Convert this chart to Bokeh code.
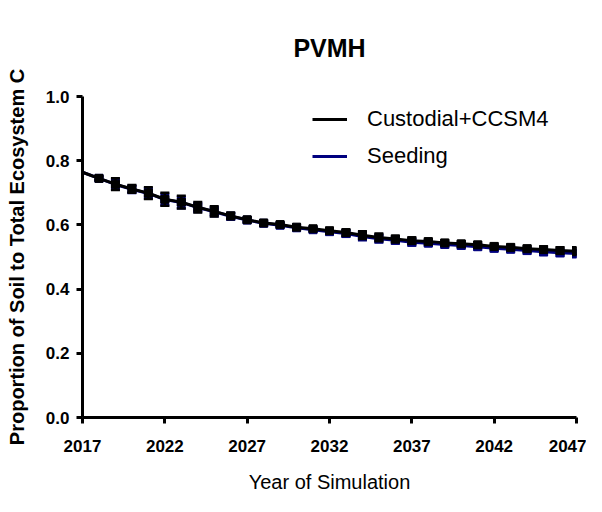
from bokeh.plotting import figure
from bokeh.models import ColumnDataSource, FixedTicker, Legend, LegendItem, Range1d, PrintfTickFormatter
from bokeh.embed import file_html
from bokeh.resources import INLINE

years = list(range(2017, 2048))
custodial = [0.764, 0.745, 0.727, 0.712, 0.699, 0.680, 0.671, 0.655, 0.642, 0.628,
             0.616, 0.606, 0.601, 0.593, 0.588, 0.582, 0.576, 0.568, 0.561, 0.556,
             0.551, 0.548, 0.544, 0.541, 0.538, 0.533, 0.530, 0.526, 0.523, 0.520, 0.518]
custodial_err = [0.004, 0.006, 0.018, 0.012, 0.018, 0.020, 0.020, 0.016, 0.016, 0.010,
                 0.007, 0.006, 0.006, 0.006, 0.006, 0.006, 0.010, 0.012, 0.012, 0.010,
                 0.010, 0.008, 0.008, 0.008, 0.008, 0.008, 0.008, 0.008, 0.010, 0.010, 0.012]
seeding = [0.764, 0.745, 0.726, 0.711, 0.698, 0.679, 0.670, 0.654, 0.641, 0.627,
           0.615, 0.605, 0.599, 0.591, 0.585, 0.579, 0.573, 0.564, 0.557, 0.552,
           0.546, 0.543, 0.539, 0.536, 0.532, 0.527, 0.524, 0.520, 0.516, 0.513, 0.511]
seeding_err = [0.004, 0.006, 0.016, 0.012, 0.016, 0.018, 0.018, 0.014, 0.014, 0.010,
               0.007, 0.006, 0.006, 0.006, 0.006, 0.006, 0.010, 0.012, 0.012, 0.010,
               0.010, 0.008, 0.008, 0.008, 0.008, 0.008, 0.008, 0.008, 0.010, 0.010, 0.012]
x_ticks = [2017, 2022, 2027, 2032, 2037, 2042, 2047]
y_ticks = [0.0, 0.2, 0.4, 0.6, 0.8, 1.0]

FONT = "Liberation Sans"
BLACK = "#000000"
BLUE = "#00007f"

p = figure(width=586, height=496, output_backend="svg", toolbar_location=None,
           x_range=Range1d(2017, 2047), y_range=Range1d(0, 1),
           min_border_left=82, min_border_right=10, min_border_top=96, min_border_bottom=79,
           title="PVMH")
p.outline_line_color = None
p.xgrid.visible = False
p.ygrid.visible = False
p.background_fill_color = "white"
p.border_fill_color = "white"

p.title.text_font = FONT
p.title.text_font_size = "25px"
p.title.text_font_style = "bold"
p.title.align = "center"
p.title.vertical_align = "top"
p.title.standoff = 66
p.title.text_color = BLACK


def add_series(vals, errs, color):
    src = ColumnDataSource(dict(
        x=years[1:], y=vals[1:],
        lo=[v - e for v, e in zip(vals[1:], errs[1:])],
        hi=[v + e for v, e in zip(vals[1:], errs[1:])],
    ))
    line = p.line(years, vals, line_color=color, line_width=3)
    p.segment(x0="x", y0="lo", x1="x", y1="hi", source=src, line_color=color, line_width=2.5)
    p.scatter(x="x", y="lo", source=src, marker="dash", size=9, line_color=color, line_width=2.5)
    p.scatter(x="x", y="hi", source=src, marker="dash", size=9, line_color=color, line_width=2.5)
    p.scatter(x="x", y="y", source=src, marker="square", size=8, fill_color=color, line_color=color)
    return line


l_seed = add_series(seeding, seeding_err, BLUE)
l_cust = add_series(custodial, custodial_err, BLACK)

legend = Legend(items=[LegendItem(label="Custodial+CCSM4", renderers=[l_cust]),
                       LegendItem(label="Seeding", renderers=[l_seed])],
                location=(230, 248), border_line_color=None, background_fill_alpha=0,
                padding=0, margin=0, spacing=11, glyph_width=35, glyph_height=26,
                label_height=26, label_standoff=20,
                label_text_font=FONT, label_text_font_size="22px", label_text_color=BLACK)
p.add_layout(legend, "center")

for ax in (p.xaxis[0], p.yaxis[0]):
    ax.axis_line_width = 3
    ax.axis_line_color = BLACK
    ax.major_tick_line_width = 3
    ax.major_tick_line_color = BLACK
    ax.major_tick_in = 0
    ax.major_tick_out = 6
    ax.minor_tick_in = 0
    ax.minor_tick_out = 0
    ax.major_label_text_font = FONT
    ax.major_label_text_font_size = "17px"
    ax.major_label_text_font_style = "bold"
    ax.major_label_text_color = BLACK
    ax.axis_label_text_font = FONT
    ax.axis_label_text_color = BLACK

p.xaxis.ticker = FixedTicker(ticks=x_ticks)
p.xaxis.formatter = PrintfTickFormatter(format="%d")
p.xaxis.major_label_standoff = 16
p.xaxis.axis_label = "Year of Simulation"
p.xaxis.axis_label_text_font_size = "20px"
p.xaxis.axis_label_text_font_style = "normal"
p.xaxis.axis_label_standoff = 16

p.yaxis.ticker = FixedTicker(ticks=y_ticks)
p.yaxis.formatter = PrintfTickFormatter(format="%.1f")
p.yaxis.major_label_standoff = 7
p.yaxis.axis_label = "Proportion of Soil to Total Ecosystem C"
p.yaxis.axis_label_text_font_size = "20px"
p.yaxis.axis_label_text_font_style = "bold"
p.yaxis.axis_label_standoff = 15

open("out.html", "w").write(file_html(p, INLINE))
